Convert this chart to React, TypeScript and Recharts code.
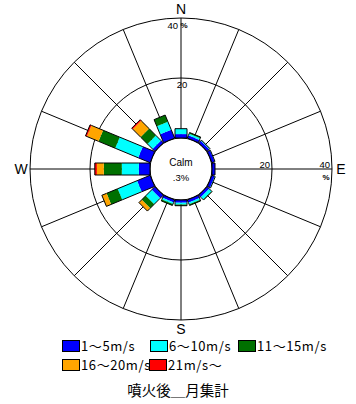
import React from "react";
import {
  RadialBarChart,
  RadialBar,
  PolarAngleAxis,
  PolarRadiusAxis,
  PolarGrid,
  Legend,
} from "recharts";

const directions = ["N", "NNE", "NE", "ENE", "E", "ESE", "SE", "SSE", "S", "SSW", "SW", "WSW", "W", "WNW", "NW", "NNW"];
const speed1to5 = [1.3, 1.0, 1.0, 1.0, 1.0, 1.0, 1.0, 1.0, 0.9, 0.9, 1.5, 4.7, 3.7, 4.3, 1.1, 3.0];
const speed6to10 = [1.8, 0.6, 0.2, 0.1, 0, 0.2, 1.1, 0.6, 0.6, 0.6, 2.8, 7.0, 5.7, 8.3, 2.4, 2.9];
const speed11to15 = [0, 0.4, 0.1, 0, 0, 0, 0.2, 0.4, 0.4, 0.5, 1.9, 4.0, 6.0, 6.0, 3.2, 2.4];
const speed16to20 = [0, 0, 0, 0, 0, 0, 0, 0, 0, 0, 1.3, 1.7, 2.3, 4.2, 3.7, 0];
const speed21up = [0, 0, 0, 0, 0, 0, 0, 0, 0, 0, 0, 0, 0.7, 0.5, 0.5, 0];

const seriesKeys = ["s1", "s2", "s3", "s4", "s5"];
const seriesNames = ["1～5m/s", "6～10m/s", "11～15m/s", "16～20m/s", "21m/s～"];
const seriesColors = ["#0000ff", "#00ffff", "#007000", "#ffa500", "#ff0000"];
const radiusTicks = [0, 20, 40];
const compassLabels = ["N", "E", "S", "W"];
const calmLabel = "Calm";
const calmValue = ".3%";
const chartTitle = "噴火後＿月集計";

const data = directions.map((dir, i) => ({
  dir,
  s1: speed1to5[i],
  s2: speed6to10[i],
  s3: speed11to15[i],
  s4: speed16to20[i],
  s5: speed21up[i],
}));

const CX = 181;
const CY = 169;
const INNER = 31;
const OUTER = 151;
const HALF = 6;
const STEP = 360 / directions.length;
// recharts sweeps each bar half a step counter-clockwise of its tick,
// so start half a step early to get N straight up, going clockwise
const START = 90 - STEP / 2;
const spokeAngles = directions.map((_, i) => 90 - i * STEP);
const smallFont = "'Liberation Sans', Arial, sans-serif";
const cjkFont = "'Noto Sans CJK JP', 'Noto Sans', sans-serif";

// draws each stacked piece as a straight rectangle along the direction
const makeBarShape = (level: number) => (props: any) => {
  const { cx, cy, innerRadius, outerRadius, startAngle, endAngle, fill, payload } = props;
  if (!(outerRadius - innerRadius > 0.05)) return <g />;
  const mid = (((startAngle + endAngle) / 2) * Math.PI) / 180;
  const dx = Math.cos(mid);
  const dy = -Math.sin(mid);
  const px = -dy;
  const py = dx;
  const pt = (r: number, s: number) => [cx + r * dx + s * HALF * px, cy + r * dy + s * HALF * py];
  const a = pt(innerRadius, 1);
  const b = pt(outerRadius, 1);
  const c = pt(outerRadius, -1);
  const d = pt(innerRadius, -1);
  const isTop = seriesKeys.slice(level + 1).every((k) => !payload?.[k]);
  return (
    <g>
      <polygon points={[a, b, c, d].map((p) => p.join(",")).join(" ")} fill={fill} stroke="none" />
      <line x1={a[0]} y1={a[1]} x2={b[0]} y2={b[1]} stroke="#000" strokeWidth={1} />
      <line x1={d[0]} y1={d[1]} x2={c[0]} y2={c[1]} stroke="#000" strokeWidth={1} />
      {level === 0 && <line x1={a[0]} y1={a[1]} x2={d[0]} y2={d[1]} stroke="#000" strokeWidth={1} />}
      {isTop && <line x1={b[0]} y1={b[1]} x2={c[0]} y2={c[1]} stroke="#000" strokeWidth={1} />}
    </g>
  );
};

const renderRadiusTick = (props: any) => {
  const { payload } = props;
  const value = payload?.value;
  if (!value) return <g />;
  const r = payload.coordinate;
  const isMax = value === radiusTicks[radiusTicks.length - 1];
  return (
    <g fontFamily={smallFont} fontSize={9.5} fill="#000">
      {isMax ? (
        <>
          <text x={CX - 3} y={CY - r + 7} textAnchor="end" dominantBaseline="central">{value}</text>
          <text x={CX + 3} y={CY - r + 7} textAnchor="middle" dominantBaseline="central" fontWeight="bold" fontSize={8}>%</text>
          <text x={CX + r - 2} y={CY - 5} textAnchor="end" dominantBaseline="central">{value}</text>
          <text x={CX + r - 6} y={CY + 8} textAnchor="middle" dominantBaseline="central" fontWeight="bold" fontSize={8}>%</text>
        </>
      ) : (
        <>
          <text x={CX + 1} y={CY - r + 6} textAnchor="middle" dominantBaseline="central">{value}</text>
          <text x={CX + r - 2} y={CY - 5} textAnchor="end" dominantBaseline="central">{value}</text>
        </>
      )}
    </g>
  );
};

const renderCompassTick = (props: any) => {
  const { payload } = props;
  if (!compassLabels.includes(payload?.value)) return <g />;
  const idx = directions.indexOf(payload.value);
  const ang = (spokeAngles[idx] * Math.PI) / 180;
  const r = OUTER + 9;
  return (
    <text
      x={CX + r * Math.cos(ang)}
      y={CY - r * Math.sin(ang)}
      textAnchor="middle"
      dominantBaseline="central"
      fontFamily={smallFont}
      fontSize={14}
      fill="#000"
    >
      {payload.value}
    </text>
  );
};

const renderLegend = () => (
  <div style={{ position: "relative", width: 356, height: 40 }}>
    {seriesNames.map((name, i) => (
      <div
        key={name}
        style={{
          position: "absolute",
          left: 62 + (i % 3) * 88 - (i === 4 ? 1 : 0),
          top: Math.floor(i / 3) * 19,
          display: "flex",
          alignItems: "center",
          whiteSpace: "nowrap",
          fontFamily: cjkFont,
          fontSize: 13,
          lineHeight: "14px",
          color: "#000",
        }}
      >
        <span
          style={{
            display: "inline-block",
            width: 16,
            height: 10,
            background: seriesColors[i],
            border: "1px solid #000",
            marginRight: 1,
          }}
        />
        <span style={{ letterSpacing: 0.6 }}>{name}</span>
      </div>
    ))}
  </div>
);

export default function App() {
  return (
    <div style={{ position: "absolute", left: 0, top: 0, width: 356, height: 404, background: "#fff" }}>
      <RadialBarChart
        width={356}
        height={404}
        data={data}
        layout="centric"
        cx={CX}
        cy={CY}
        innerRadius={INNER}
        outerRadius={OUTER}
        startAngle={START}
        endAngle={START - 360}
        margin={{ top: 0, right: 0, bottom: 0, left: 0 }}
      >
        <PolarGrid gridType="circle" stroke="#000" strokeOpacity={1} polarAngles={spokeAngles} />
        <PolarAngleAxis type="category" dataKey="dir" axisLine={false} tickLine={false} tick={renderCompassTick} />
        <PolarRadiusAxis
          type="number"
          domain={[0, 40]}
          ticks={radiusTicks}
          angle={90}
          axisLine={false}
          tickLine={false}
          tick={renderRadiusTick}
        />
        {seriesKeys.map((key, i) => (
          <RadialBar
            key={key}
            dataKey={key}
            name={seriesNames[i]}
            stackId="wind"
            fill={seriesColors[i]}
            shape={makeBarShape(i)}
            isAnimationActive={false}
          />
        ))}
        <text x={CX} y={CY - 7} textAnchor="middle" dominantBaseline="central" fontFamily={smallFont} fontSize={10}>
          {calmLabel}
        </text>
        <text x={CX} y={CY + 8} textAnchor="middle" dominantBaseline="central" fontFamily={smallFont} fontSize={9.5}>
          {calmValue}
        </text>
        <Legend content={renderLegend} wrapperStyle={{ position: "absolute", left: 0, top: 339, width: 356 }} />
      </RadialBarChart>
      <div
        style={{
          position: "absolute",
          left: 0,
          top: 379,
          width: 356,
          textAlign: "center",
          fontFamily: cjkFont,
          fontSize: 14.5,
          color: "#000",
        }}
      >
        {chartTitle}
      </div>
    </div>
  );
}
